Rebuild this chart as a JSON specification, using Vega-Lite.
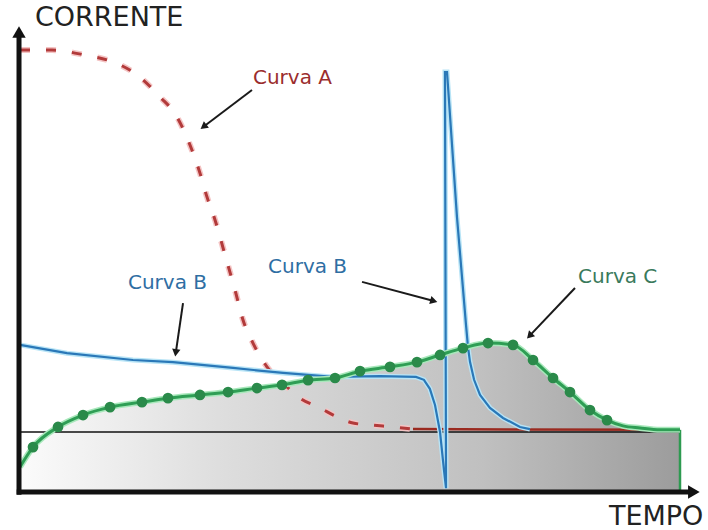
{
  "$schema": "https://vega.github.io/schema/vega-lite/v6.json",
  "width": 708,
  "height": 530,
  "autosize": {"type": "none"},
  "padding": 0,
  "background": "white",
  "config": {"view": {"stroke": null}},
  "datasets": {
    "A": [
      {"t": 0, "c": 106.1}, {"t": 4.85, "c": 106.1}, {"t": 9.85, "c": 104.7}, {"t": 14.09, "c": 102.8},
      {"t": 17.73, "c": 99.2}, {"t": 21.21, "c": 93.1}, {"t": 23.79, "c": 87.5}, {"t": 25.45, "c": 81.1},
      {"t": 27.27, "c": 71.9}, {"t": 28.33, "c": 65.3}, {"t": 29.55, "c": 58.9}, {"t": 31.06, "c": 49.2},
      {"t": 32.58, "c": 39.4}, {"t": 33.79, "c": 31.1}, {"t": 35.3, "c": 24.7}, {"t": 37.42, "c": 18.1},
      {"t": 39.85, "c": 13.6}, {"t": 42.42, "c": 9.4}, {"t": 45.45, "c": 6.7}, {"t": 48.03, "c": 4.2},
      {"t": 50.45, "c": 2.5}, {"t": 53.48, "c": 1.9}, {"t": 56.52, "c": 1.4}, {"t": 59.55, "c": 0.8},
      {"t": 100, "c": 0.6}
    ],
    "B": [
      {"i": 1, "t": 0, "c": 24.2}, {"i": 2, "t": 7.12, "c": 21.9}, {"i": 3, "t": 17.12, "c": 20.0},
      {"i": 4, "t": 23.18, "c": 19.4}, {"i": 5, "t": 32.27, "c": 17.8}, {"i": 6, "t": 39.85, "c": 16.4},
      {"i": 7, "t": 47.42, "c": 15.3}, {"i": 8, "t": 54.55, "c": 15.5}, {"i": 9, "t": 60.0, "c": 15.3},
      {"i": 10, "t": 61.2, "c": 14.5}, {"i": 11, "t": 62.1, "c": 12.0}, {"i": 12, "t": 62.88, "c": 7.5},
      {"i": 13, "t": 63.64, "c": 0.0}, {"i": 14, "t": 64.24, "c": -10.6}, {"i": 15, "t": 64.55, "c": -15.6},
      {"i": 16, "t": 64.39, "c": 100}, {"i": 17, "t": 64.7, "c": 100}, {"i": 18, "t": 66.21, "c": 59.7},
      {"i": 19, "t": 67.58, "c": 29.7}, {"i": 20, "t": 67.88, "c": 23.6}, {"i": 21, "t": 68.18, "c": 19.5},
      {"i": 22, "t": 68.8, "c": 14.5}, {"i": 23, "t": 69.7, "c": 10.3}, {"i": 24, "t": 71.21, "c": 6.7},
      {"i": 25, "t": 73.18, "c": 3.9}, {"i": 26, "t": 75.76, "c": 1.4}, {"i": 27, "t": 77.27, "c": 0.8}
    ],
    "C": [
      {"t": 0, "c": -9.7}, {"t": 1.97, "c": -4.2}, {"t": 5.76, "c": 1.4}, {"t": 9.55, "c": 4.7},
      {"t": 13.64, "c": 6.9}, {"t": 18.48, "c": 8.3}, {"t": 22.42, "c": 9.4}, {"t": 27.27, "c": 10.3},
      {"t": 31.52, "c": 11.1}, {"t": 35.91, "c": 12.2}, {"t": 39.7, "c": 13.1}, {"t": 43.64, "c": 14.4},
      {"t": 47.73, "c": 15.0}, {"t": 51.52, "c": 16.9}, {"t": 56.06, "c": 18.1}, {"t": 60.15, "c": 19.4},
      {"t": 63.64, "c": 21.4}, {"t": 67.12, "c": 23.3}, {"t": 70.91, "c": 24.7}, {"t": 74.7, "c": 24.2},
      {"t": 77.73, "c": 20.0}, {"t": 80.76, "c": 15.0}, {"t": 83.33, "c": 11.1}, {"t": 86.36, "c": 6.1},
      {"t": 88.94, "c": 3.3}, {"t": 91.36, "c": 1.7}, {"t": 93.94, "c": 1.1}, {"t": 96.97, "c": 0.6},
      {"t": 100, "c": 0.6}
    ],
    "arrows": [
      {"t": 35.15, "c": 95.0, "t2": 27.8, "c2": 84.8},
      {"t": 24.7, "c": 35.8, "t2": 23.6, "c2": 22.0},
      {"t": 51.82, "c": 41.7, "t2": 62.7, "c2": 36.4},
      {"t": 84.09, "c": 40.0, "t2": 77.2, "c2": 26.7}
    ],
    "labels": [
      {"text": "CORRENTE", "t": 2.27, "c": 115.0, "kind": "axis"},
      {"text": "TEMPO", "t": 89.24, "c": -23.6, "kind": "axis"},
      {"text": "Curva A", "t": 35.3, "c": 98.3, "kind": "A"},
      {"text": "Curva B", "t": 16.36, "c": 41.4, "kind": "B"},
      {"text": "Curva B", "t": 37.58, "c": 45.8, "kind": "B"},
      {"text": "Curva C", "t": 84.55, "c": 43.1, "kind": "C"}
    ],
    "one": [{}]
  },
  "layer": [
    {
      "data": {"name": "C"},
      "mark": {"type": "area", "interpolate": "monotone", "color": {"gradient": "linear", "x1": 0, "y1": 0, "x2": 1, "y2": 0, "stops": [{"offset": 0, "color": "#fbfbfb"}, {"offset": 0.3, "color": "#dedede"}, {"offset": 0.7, "color": "#c0c0c0"}, {"offset": 1, "color": "#9c9c9c"}]}},
      "encoding": {
        "x": {"field": "t", "type": "quantitative", "scale": {"domain": [0, 100], "range": [20, 680], "nice": false, "zero": false}, "axis": null},
        "y": {"field": "c", "type": "quantitative", "scale": {"domain": [0, 100], "range": [432, 72], "nice": false, "zero": false}, "axis": null},
        "y2": {"datum": -16.67}
      }
    },
    {
      "data": {"name": "one"},
      "mark": {"type": "rule", "color": "#2d9a50", "strokeWidth": 2.5},
      "encoding": {
        "x": {"datum": 100, "type": "quantitative"},
        "y": {"datum": 0.6, "type": "quantitative"},
        "y2": {"datum": -16.67}
      }
    },
    {
      "data": {"name": "one"},
      "mark": {"type": "rule", "color": "#111111", "strokeWidth": 1.6},
      "encoding": {
        "x": {"datum": 0, "type": "quantitative"},
        "x2": {"datum": 100},
        "y": {"datum": 0, "type": "quantitative"}
      }
    },
    {
      "data": {"name": "A"},
      "transform": [{"filter": "datum.t <= 59.6"}],
      "mark": {"type": "line", "interpolate": "monotone", "color": "#f4c4c4", "strokeWidth": 6, "strokeDash": [10, 16]},
      "encoding": {
        "x": {"field": "t", "type": "quantitative"},
        "y": {"field": "c", "type": "quantitative"}
      }
    },
    {
      "data": {"name": "A"},
      "transform": [{"filter": "datum.t <= 59.6"}],
      "mark": {"type": "line", "interpolate": "monotone", "color": "#b23a3a", "strokeWidth": 3, "strokeDash": [10, 16]},
      "encoding": {
        "x": {"field": "t", "type": "quantitative"},
        "y": {"field": "c", "type": "quantitative"}
      }
    },
    {
      "data": {"name": "A"},
      "transform": [{"filter": "datum.t >= 59.5"}],
      "mark": {"type": "line", "color": "#9a2a20", "strokeWidth": 2.5},
      "encoding": {
        "x": {"field": "t", "type": "quantitative"},
        "y": {"field": "c", "type": "quantitative"}
      }
    },
    {
      "data": {"name": "B"},
      "mark": {"type": "line", "color": "#b8e4f6", "strokeWidth": 5},
      "encoding": {
        "x": {"field": "t", "type": "quantitative"},
        "y": {"field": "c", "type": "quantitative"},
        "order": {"field": "i", "type": "quantitative"}
      }
    },
    {
      "data": {"name": "B"},
      "mark": {"type": "line", "color": "#2a78b8", "strokeWidth": 2.2},
      "encoding": {
        "x": {"field": "t", "type": "quantitative"},
        "y": {"field": "c", "type": "quantitative"},
        "order": {"field": "i", "type": "quantitative"}
      }
    },
    {
      "data": {"name": "C"},
      "mark": {"type": "line", "interpolate": "monotone", "color": "#a8e8bb", "strokeWidth": 6},
      "encoding": {
        "x": {"field": "t", "type": "quantitative"},
        "y": {"field": "c", "type": "quantitative"}
      }
    },
    {
      "data": {"name": "C"},
      "mark": {"type": "line", "interpolate": "monotone", "color": "#2f9e55", "strokeWidth": 3},
      "encoding": {
        "x": {"field": "t", "type": "quantitative"},
        "y": {"field": "c", "type": "quantitative"}
      }
    },
    {
      "data": {"name": "C"},
      "transform": [{"filter": "datum.t > 1 && datum.t < 90"}],
      "mark": {"type": "point", "shape": "circle", "filled": true, "color": "#2a8a4a", "size": 115, "opacity": 1},
      "encoding": {
        "x": {"field": "t", "type": "quantitative"},
        "y": {"field": "c", "type": "quantitative"}
      }
    },
    {
      "data": {"name": "one"},
      "mark": {"type": "rule", "color": "#111111", "strokeWidth": 5},
      "encoding": {
        "x": {"datum": -0.15, "type": "quantitative"},
        "y": {"datum": -17.4, "type": "quantitative"},
        "y2": {"datum": 110}
      }
    },
    {
      "data": {"name": "one"},
      "mark": {"type": "rule", "color": "#111111", "strokeWidth": 5},
      "encoding": {
        "x": {"datum": -0.5, "type": "quantitative"},
        "x2": {"datum": 101.5},
        "y": {"datum": -16.67, "type": "quantitative"}
      }
    },
    {
      "data": {"name": "one"},
      "mark": {"type": "point", "shape": "triangle-up", "filled": true, "color": "#111111", "size": 180, "opacity": 1},
      "encoding": {
        "x": {"datum": -0.15, "type": "quantitative"},
        "y": {"datum": 111.1, "type": "quantitative"}
      }
    },
    {
      "data": {"name": "one"},
      "mark": {"type": "point", "shape": "triangle-right", "filled": true, "color": "#111111", "size": 180, "opacity": 1},
      "encoding": {
        "x": {"datum": 102.1, "type": "quantitative"},
        "y": {"datum": -16.67, "type": "quantitative"}
      }
    },
    {
      "data": {"name": "arrows"},
      "mark": {"type": "rule", "color": "#1a1a1a", "strokeWidth": 2},
      "encoding": {
        "x": {"field": "t", "type": "quantitative"},
        "y": {"field": "c", "type": "quantitative"},
        "x2": {"field": "t2"},
        "y2": {"field": "c2"}
      }
    },
    {
      "data": {"name": "arrows"},
      "transform": [{"calculate": "atan2((datum.t2 - datum.t) * 6.6, (datum.c2 - datum.c) * 3.6) * 180 / PI", "as": "ang"}],
      "mark": {"type": "point", "shape": "triangle-up", "filled": true, "color": "#1a1a1a", "size": 70, "opacity": 1},
      "encoding": {
        "x": {"field": "t2", "type": "quantitative"},
        "y": {"field": "c2", "type": "quantitative"},
        "angle": {"field": "ang", "type": "quantitative", "scale": null}
      }
    },
    {
      "data": {"name": "labels"},
      "transform": [{"filter": "datum.kind == 'axis'"}],
      "mark": {"type": "text", "align": "left", "baseline": "middle", "font": "DejaVu Sans", "fontSize": 27, "color": "#222222"},
      "encoding": {
        "x": {"field": "t", "type": "quantitative"},
        "y": {"field": "c", "type": "quantitative"},
        "text": {"field": "text"}
      }
    },
    {
      "data": {"name": "labels"},
      "transform": [{"filter": "datum.kind != 'axis'"}],
      "mark": {"type": "text", "align": "left", "baseline": "middle", "font": "DejaVu Sans", "fontSize": 20},
      "encoding": {
        "x": {"field": "t", "type": "quantitative"},
        "y": {"field": "c", "type": "quantitative"},
        "text": {"field": "text"},
        "color": {"field": "kind", "type": "nominal", "scale": {"domain": ["A", "B", "C"], "range": ["#9b2d2d", "#2f6ea3", "#3a7a5c"]}, "legend": null}
      }
    }
  ]
}
